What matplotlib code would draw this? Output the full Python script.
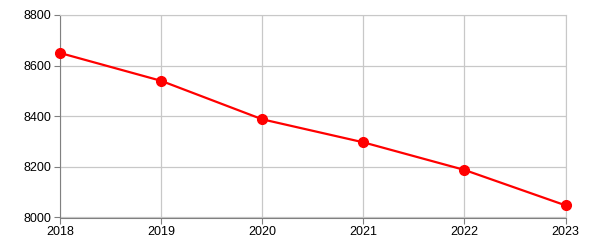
import matplotlib
matplotlib.use("Agg")
import matplotlib.pyplot as plt

plt.rcParams['font.family'] = ['Liberation Sans', 'DejaVu Sans']

# data
years = [2018, 2019, 2020, 2021, 2022, 2023]
values = [8650, 8540, 8388, 8297, 8188, 8048]
y_ticks = [8000, 8200, 8400, 8600, 8800]

fig = plt.figure(figsize=(6, 2.5), dpi=100)
ax = fig.add_axes([0.1, 0.13, 0.8425, 0.81])

ax.plot(years, values, color='#ff0000', linewidth=1.6, marker='o',
        markersize=7, zorder=3, clip_on=False)

ax.set_xlim(years[0], years[-1])
ax.set_ylim(y_ticks[0], y_ticks[-1])
ax.set_xticks(years)
ax.set_yticks(y_ticks)
ax.grid(True, color='#c8c8c8', linewidth=0.9)

for side in ['top', 'right']:
    ax.spines[side].set_color('#c8c8c8')
for side in ['left', 'bottom']:
    ax.spines[side].set_color('#808080')
ax.tick_params(axis='both', length=4, color='#808080', labelsize=9,
               labelcolor='black', pad=2)

fig.savefig("out.png", dpi=100)
